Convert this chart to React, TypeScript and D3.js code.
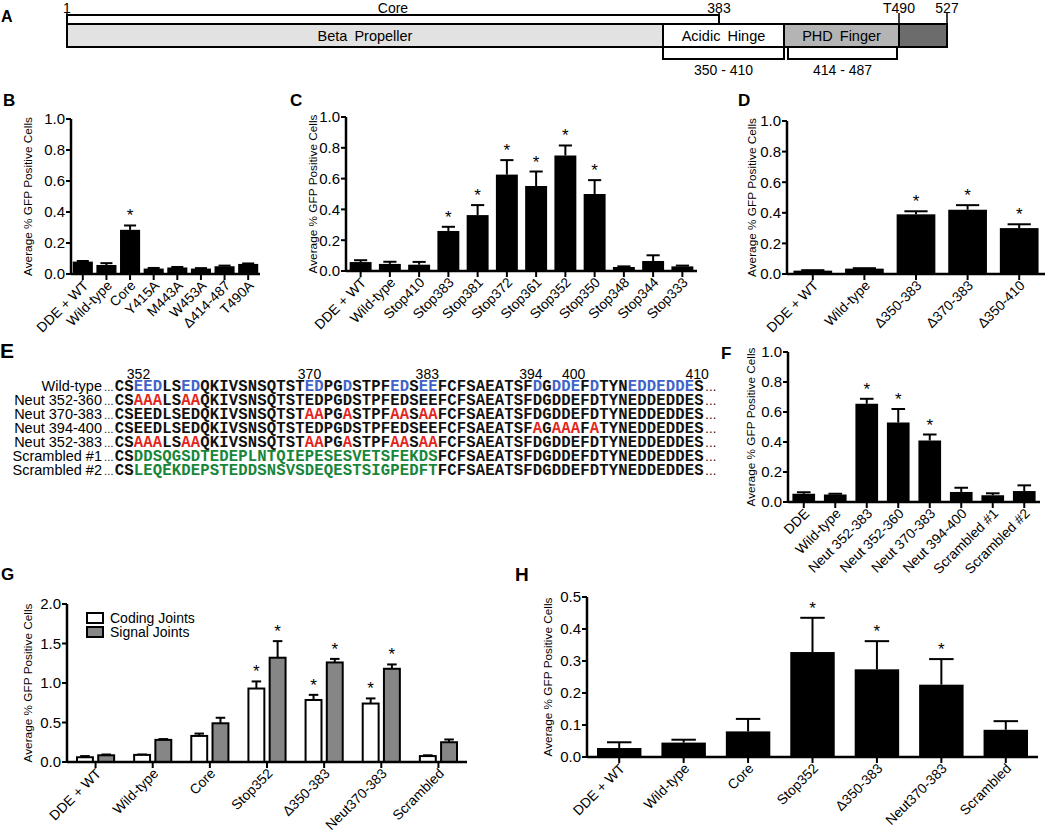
import React from "react";
import * as d3 from "d3";

const SANS = "Arial, 'Liberation Sans', Helvetica, sans-serif";
const MONO = "'Liberation Mono', 'Courier New', monospace";

// ---------- Panel A : domain map ----------
const domainNames = ["Beta Propeller", "Acidic Hinge", "PHD Finger", ""];
const domainStarts = [1, 350, 410, 490];
const domainEnds = [350, 410, 490, 527];
const residueMarks = [1, 383, 490, 527];
const residueMarkLabels = ["1", "383", "T490", "527"];
const coreStart = 1;
const coreEnd = 383;
const bracketStarts = [350, 414];
const bracketEnds = [410, 487];
const bracketLabels = ["350 - 410", "414 - 487"];

// ---------- Panel B ----------
const bCategories = ["DDE + WT", "Wild-type", "Core", "Y415A", "M443A", "W453A", "Δ414-487", "T490A"];
const bMeans = [0.08, 0.058, 0.285, 0.035, 0.042, 0.035, 0.05, 0.065];
const bErrors = [0.004, 0.012, 0.028, 0.004, 0.003, 0.003, 0.004, 0.003];
const bStars = [false, false, true, false, false, false, false, false];

// ---------- Panel C ----------
const cCategories = ["DDE + WT", "Wild-type", "Stop410", "Stop383", "Stop381", "Stop372", "Stop361", "Stop352", "Stop350", "Stop348", "Stop344", "Stop333"];
const cMeans = [0.058, 0.046, 0.041, 0.26, 0.363, 0.626, 0.552, 0.75, 0.5, 0.026, 0.065, 0.03];
const cErrors = [0.012, 0.014, 0.018, 0.027, 0.065, 0.094, 0.094, 0.065, 0.09, 0.004, 0.037, 0.005];
const cStars = [false, false, false, true, true, true, true, true, true, false, false, false];

// ---------- Panel D ----------
const dCategories = ["DDE + WT", "Wild-type", "Δ350-383", "Δ370-383", "Δ350-410"];
const dMeans = [0.022, 0.035, 0.39, 0.42, 0.3];
const dErrors = [0.003, 0.003, 0.02, 0.03, 0.025];
const dStars = [false, false, true, true, true];

// ---------- Panel E : sequences ----------
const seqNumberLabels = ["352", "370", "383", "394", "400", "410"];
const seqNumberAnchors = [352, 370, 382.4, 393.3, 397.8, 410.8];
const seqRowLabels = ["Wild-type", "Neut 352-360", "Neut 370-383", "Neut 394-400", "Neut 352-383", "Scrambled #1", "Scrambled #2"];
const seqFirstResidue = 350;
// segments: [text, colour-code]  k = black, b = blue, r = red, g = green
const seqRows: [string, string][][] = [
  [["CS", "k"], ["EED", "b"], ["LS", "k"], ["ED", "b"], ["QKIVSNSQTST", "k"], ["ED", "b"], ["PG", "k"], ["D", "b"], ["STPF", "k"], ["ED", "b"], ["S", "k"], ["EE", "b"], ["FCFSAEATSF", "k"], ["D", "b"], ["G", "k"], ["DDE", "b"], ["F", "k"], ["D", "b"], ["TYN", "k"], ["EDDEDDE", "b"], ["S", "k"]],
  [["CS", "k"], ["AAA", "r"], ["LS", "k"], ["AA", "r"], ["QKIVSNSQTSTEDPGDSTPFEDSEEFCFSAEATSFDGDDEFDTYNEDDEDDES", "k"]],
  [["CSEEDLSEDQKIVSNSQTST", "k"], ["AA", "r"], ["PG", "k"], ["A", "r"], ["STPF", "k"], ["AA", "r"], ["S", "k"], ["AA", "r"], ["FCFSAEATSFDGDDEFDTYNEDDEDDES", "k"]],
  [["CSEEDLSEDQKIVSNSQTSTEDPGDSTPFEDSEEFCFSAEATSF", "k"], ["A", "r"], ["G", "k"], ["AAA", "r"], ["F", "k"], ["A", "r"], ["TYNEDDEDDES", "k"]],
  [["CS", "k"], ["AAA", "r"], ["LS", "k"], ["AA", "r"], ["QKIVSNSQTST", "k"], ["AA", "r"], ["PG", "k"], ["A", "r"], ["STPF", "k"], ["AA", "r"], ["S", "k"], ["AA", "r"], ["FCFSAEATSFDGDDEFDTYNEDDEDDES", "k"]],
  [["CS", "k"], ["DDSQGSDTEDEPLNTQIEPESESVETSFEKDS", "g"], ["FCFSAEATSFDGDDEFDTYNEDDEDDES", "k"]],
  [["CS", "k"], ["LEQEKDEPSTEDDSNSVSDEQESTSIGPEDFT", "g"], ["FCFSAEATSFDGDDEFDTYNEDDEDDES", "k"]],
];

// ---------- Panel F ----------
const fCategories = ["DDE", "Wild-type", "Neut 352-383", "Neut 352-360", "Neut 370-383", "Neut 394-400", "Scrambled #1", "Scrambled #2"];
const fMeans = [0.055, 0.05, 0.655, 0.53, 0.41, 0.067, 0.045, 0.073];
const fErrors = [0.01, 0.005, 0.033, 0.09, 0.04, 0.028, 0.013, 0.038];
const fStars = [false, false, true, true, true, false, false, false];

// ---------- Panel G ----------
const gCategories = ["DDE + WT", "Wild-type", "Core", "Stop352", "Δ350-383", "Neut370-383", "Scrambled"];
const gSeries = ["Coding Joints", "Signal Joints"];
const gCoding = [0.06, 0.09, 0.33, 0.93, 0.785, 0.74, 0.075];
const gCodingErr = [0.015, 0.005, 0.03, 0.09, 0.065, 0.065, 0.01];
const gCodingStars = [false, false, false, true, true, true, false];
const gSignal = [0.085, 0.28, 0.49, 1.32, 1.26, 1.18, 0.25];
const gSignalErr = [0.01, 0.01, 0.07, 0.21, 0.045, 0.055, 0.035];
const gSignalStars = [false, false, false, true, true, true, false];

// ---------- Panel H ----------
const hCategories = ["DDE + WT", "Wild-type", "Core", "Stop352", "Δ350-383", "Neut370-383", "Scrambled"];
const hMeans = [0.028, 0.045, 0.08, 0.328, 0.274, 0.226, 0.085];
const hErrors = [0.018, 0.009, 0.039, 0.107, 0.088, 0.08, 0.027];
const hStars = [false, false, false, true, true, true, false];

const unitTicks = [0, 0.2, 0.4, 0.6, 0.8, 1.0];
const gTicks = [0, 0.5, 1.0, 1.5, 2.0];
const hTicks = [0, 0.1, 0.2, 0.3, 0.4, 0.5];

const Y_TITLE = "Average % GFP Positive Cells";
const fmt = d3.format(".1f");

function Axes({ xr, y, ticks, titleX, xTicks }: any) {
  const [yb, yt] = y.range();
  return (
    <g>
      <line x1={xr[0]} x2={xr[0]} y1={yb} y2={yt} stroke="#000" strokeWidth={2.5} />
      <line x1={xr[0]} x2={xr[1]} y1={yb} y2={yb} stroke="#000" strokeWidth={2.5} />
      {ticks.map((t: number) => (
        <g key={t}>
          <line x1={xr[0] - 5} x2={xr[0]} y1={y(t)} y2={y(t)} stroke="#000" strokeWidth={2} />
          <text x={xr[0] - 6} y={y(t)} dy="0.36em" textAnchor="end" fontSize={15} fontFamily={SANS}>{fmt(t)}</text>
        </g>
      ))}
      {xTicks.map((xt: any, i: number) => (
        <g key={i}>
          <line x1={xt.x} x2={xt.x} y1={yb} y2={yb + 6} stroke="#000" strokeWidth={2} />
          <text transform={`translate(${xt.x + 3},${yb + 9}) rotate(-45)`} textAnchor="end" dy="0.35em" fontSize={13.8} fontFamily={SANS}>{xt.label}</text>
        </g>
      ))}
      <text transform={`translate(${titleX},${(yb + yt) / 2}) rotate(-90)`} textAnchor="middle" dy="0.35em" fontSize={11.8} fontFamily={SANS}>{Y_TITLE}</text>
    </g>
  );
}

function ErrStar({ cx, w, yTop, yErr, star, capFrac }: any) {
  const cw = w * capFrac;
  return (
    <g>
      <line x1={cx} x2={cx} y1={yTop} y2={yErr} stroke="#000" strokeWidth={2} />
      <line x1={cx - cw / 2} x2={cx + cw / 2} y1={yErr} y2={yErr} stroke="#000" strokeWidth={2} />
      {star && (
        <text x={cx} y={yErr - 4} textAnchor="middle" fontSize={17} fontFamily={SANS}>*</text>
      )}
    </g>
  );
}

function BarPanel({ cats, means, errs, stars, xr, yr, yMax, ticks, titleX, pad, capFrac = 0.6 }: any) {
  const x = d3.scaleBand<string>().domain(cats).range(xr).paddingInner(pad).paddingOuter(pad / 2);
  const y = d3.scaleLinear().domain([0, yMax]).range(yr);
  const w = x.bandwidth();
  return (
    <g>
      {cats.map((c: string, i: number) => {
        const cx = (x(c) as number) + w / 2;
        return (
          <g key={c}>
            <ErrStar cx={cx} w={w} yTop={y(means[i])} yErr={y(means[i] + errs[i])} star={stars[i]} capFrac={capFrac} />
            <rect x={x(c)} y={y(means[i])} width={w} height={y(0) - y(means[i])} fill="#000" />
          </g>
        );
      })}
      <Axes xr={xr} y={y} ticks={ticks} titleX={titleX} xTicks={cats.map((c: string) => ({ x: (x(c) as number) + w / 2, label: c }))} />
    </g>
  );
}

function PanelA() {
  const xs = d3.scaleLinear()
    .domain([1, 350, 383, 410, 414, 487, 490, 527])
    .range([67, 663, 719, 784, 788, 897, 899, 947]);
  const barTop = 24, barBot = 47, brTop = 15, lowBot = 59;
  const fills = ["#e2e2e2", "#ffffff", "#b4b4b4", "#6c6c6c"];
  return (
    <g fontFamily={SANS}>
      <rect x={xs(coreStart)} y={brTop} width={xs(coreEnd) - xs(coreStart)} height={barTop - brTop} fill="#fff" stroke="#000" strokeWidth={2} />
      <text x={(xs(coreStart) + xs(coreEnd)) / 2} y={12.5} textAnchor="middle" fontSize={14}>Core</text>
      {residueMarks.map((r, i) => (
        <g key={r}>
          <line x1={xs(r)} x2={xs(r)} y1={13} y2={barTop} stroke="#000" strokeWidth={1.5} />
          <text x={xs(r)} y={12.5} textAnchor="middle" fontSize={14}>{residueMarkLabels[i]}</text>
        </g>
      ))}
      {domainNames.map((n, i) => (
        <g key={i}>
          <rect x={xs(domainStarts[i])} y={barTop} width={xs(domainEnds[i]) - xs(domainStarts[i])} height={barBot - barTop} fill={fills[i]} stroke="#000" strokeWidth={2} />
          <text x={(xs(domainStarts[i]) + xs(domainEnds[i])) / 2} y={(barTop + barBot) / 2} dy="0.36em" textAnchor="middle" fontSize={14.5} wordSpacing={3}>{n}</text>
        </g>
      ))}
      {bracketLabels.map((l, i) => (
        <g key={l}>
          <path d={`M${xs(bracketStarts[i])},${barBot}V${lowBot}H${xs(bracketEnds[i])}V${barBot}`} fill="none" stroke="#000" strokeWidth={2} />
          <text x={(xs(bracketStarts[i]) + xs(bracketEnds[i])) / 2} y={75} textAnchor="middle" fontSize={14}>{l}</text>
        </g>
      ))}
    </g>
  );
}

function PanelE() {
  const rx = d3.scaleLinear().domain([352, 383]).range([138.5, 433]);
  const rowY = d3.scalePoint<string>().domain(seqRowLabels).range([391, 475]);
  const colour: any = { k: "#111", b: "#3f63c8", r: "#e3261d", g: "#18863a" };
  return (
    <g>
      {seqNumberLabels.map((l, i) => (
        <text key={l} x={rx(seqNumberAnchors[i])} y={379} textAnchor="middle" fontSize={14} fontFamily={SANS}>{l}</text>
      ))}
      {seqRows.map((segs, ri) => {
        const yy = rowY(seqRowLabels[ri]) as number;
        let idx = 0;
        const nChars = segs.reduce((s, sg) => s + sg[0].length, 0);
        const half = (rx(353) - rx(352)) / 2;
        return (
          <g key={ri}>
            <text x={102} y={yy} textAnchor="end" fontSize={14.5} fontFamily={SANS}>{seqRowLabels[ri]}</text>
            <text x={rx(seqFirstResidue) - half - 1} y={yy} textAnchor="end" fontSize={10} fontFamily={SANS}>…</text>
            <text y={yy} fontSize={15.6} fontFamily={MONO} fontWeight={700} textAnchor="middle">
              {segs.map((sg, si) => {
                const xsList = sg[0].split("").map(() => rx(seqFirstResidue + idx++).toFixed(2)).join(" ");
                return (
                  <tspan key={si} x={xsList} fill={colour[sg[1]]}>{sg[0]}</tspan>
                );
              })}
            </text>
            <text x={rx(seqFirstResidue + nChars - 1) + half + 1} y={yy} textAnchor="start" fontSize={12} fontFamily={SANS}>…</text>
          </g>
        );
      })}
    </g>
  );
}

function PanelG() {
  const x0 = d3.scaleBand<string>().domain(gCategories).range([67, 467]).paddingInner(0.35).paddingOuter(0.175);
  const x1 = d3.scaleBand<string>().domain(gSeries).range([0, x0.bandwidth()]).paddingInner(0.25);
  const y = d3.scaleLinear().domain([0, 2]).range([762, 604]);
  const w = x1.bandwidth();
  const series = [
    { name: gSeries[0], vals: gCoding, errs: gCodingErr, stars: gCodingStars, fill: "#ffffff" },
    { name: gSeries[1], vals: gSignal, errs: gSignalErr, stars: gSignalStars, fill: "#868686" },
  ];
  return (
    <g>
      {gCategories.map((c, i) => (
        <g key={c}>
          {series.map((s) => {
            const bx = (x0(c) as number) + (x1(s.name) as number);
            return (
              <g key={s.name}>
                <ErrStar cx={bx + w / 2} w={w} yTop={y(s.vals[i])} yErr={y(s.vals[i] + s.errs[i])} star={s.stars[i]} capFrac={0.6} />
                <rect x={bx} y={y(s.vals[i])} width={w} height={y(0) - y(s.vals[i])} fill={s.fill} stroke="#000" strokeWidth={2} />
              </g>
            );
          })}
        </g>
      ))}
      <Axes xr={[67, 467]} y={y} ticks={gTicks} titleX={28} xTicks={gCategories.map((c) => ({ x: (x0(c) as number) + x0.bandwidth() / 2, label: c }))} />
      {series.map((s, i) => (
        <g key={s.name}>
          <rect x={87} y={613 + i * 14} width={16} height={10} fill={s.fill} stroke="#000" strokeWidth={2} />
          <text x={110} y={618 + i * 14} dy="0.36em" fontSize={14} fontFamily={SANS}>{s.name}</text>
        </g>
      ))}
    </g>
  );
}

function Letter({ x, y, t, size = 17 }: any) {
  return <text x={x} y={y} fontSize={size} fontWeight={700} fontFamily={SANS}>{t}</text>;
}

export default function App() {
  return (
    <svg width={1050} height={833} style={{ position: "absolute", left: 0, top: 0, background: "#fff" }}>
      <rect width={1050} height={833} fill="#fff" />
      <Letter x={1} y={22} t="A" size={16} />
      <PanelA />

      <Letter x={3} y={106} t="B" />
      <BarPanel cats={bCategories} means={bMeans} errs={bErrors} stars={bStars} xr={[71, 260]} yr={[274, 119]} yMax={1} ticks={unitTicks} titleX={28} pad={0.15} />

      <Letter x={290} y={106} t="C" />
      <BarPanel cats={cCategories} means={cMeans} errs={cErrors} stars={cStars} xr={[346, 697]} yr={[271, 117]} yMax={1} ticks={unitTicks} titleX={313} pad={0.25} />

      <Letter x={738} y={106} t="D" />
      <BarPanel cats={dCategories} means={dMeans} errs={dErrors} stars={dStars} xr={[787, 1045]} yr={[274, 121]} yMax={1} ticks={unitTicks} titleX={752} pad={0.25} />

      <Letter x={0} y={358} t="E" size={21} />
      <PanelE />

      <Letter x={721} y={359} t="F" />
      <BarPanel cats={fCategories} means={fMeans} errs={fErrors} stars={fStars} xr={[788, 1040]} yr={[502, 352]} yMax={1} ticks={unitTicks} titleX={751} pad={0.28} />

      <Letter x={1} y={580} t="G" />
      <PanelG />

      <Letter x={515} y={581} t="H" size={19} />
      <BarPanel cats={hCategories} means={hMeans} errs={hErrors} stars={hStars} xr={[587, 1038]} yr={[757, 597]} yMax={0.5} ticks={hTicks} titleX={548} pad={0.31} capFrac={0.55} />
    </svg>
  );
}
